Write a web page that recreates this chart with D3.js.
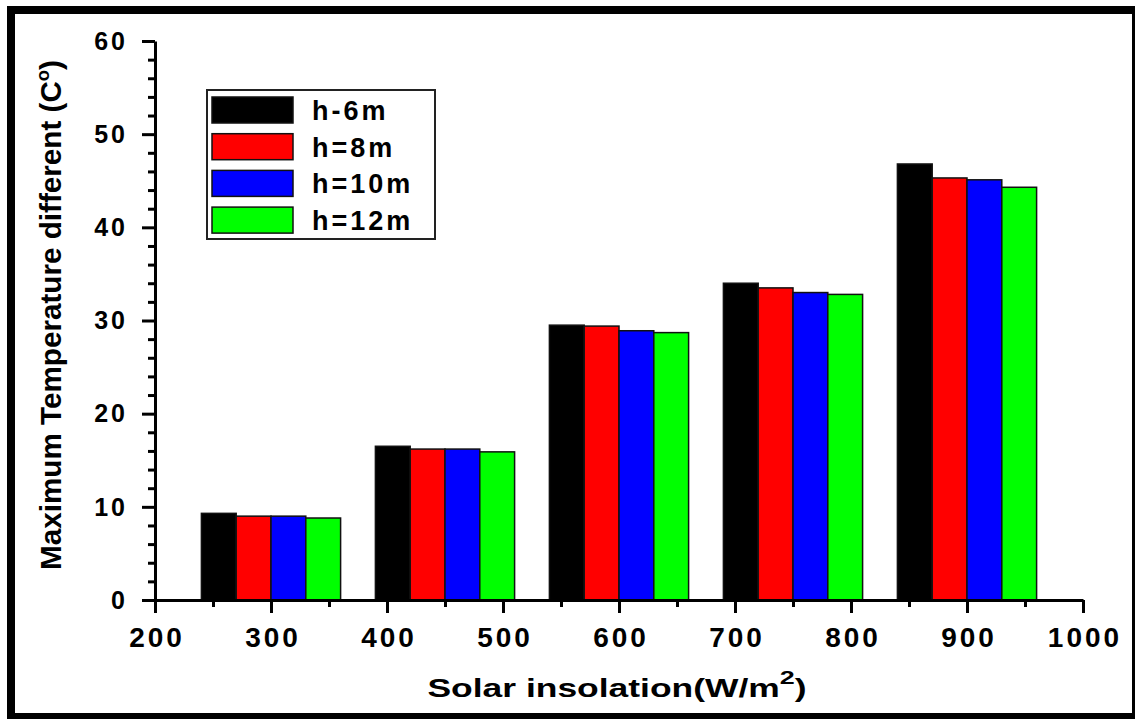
<!DOCTYPE html>
<html>
<head>
<meta charset="utf-8">
<script src="https://cdn.jsdelivr.net/npm/d3@7"></script>
<style>
  body { margin: 0; background: #fff; }
  svg text { font-family: "Liberation Sans", Arial, sans-serif; font-weight: bold; fill: #000; }
</style>
</head>
<body>
<div id="chart"></div>
<script>
// categories on the x axis (solar insolation, W/m2)
const categories = [300, 450, 600, 750, 900];
const seriesNames = ["h-6m", "h=8m", "h=10m", "h=12m"];
const seriesColors = ["#000000", "#ff0000", "#0000ff", "#00ff00"];

// maximum temperature difference per series
const h6 = [9.3, 16.5, 29.5, 34.0, 46.8];
const h8 = [9.0, 16.2, 29.4, 33.5, 45.3];
const h10 = [9.0, 16.2, 28.9, 33.0, 45.1];
const h12 = [8.8, 15.9, 28.7, 32.8, 44.3];

const xMajorTicks = [200, 300, 400, 500, 600, 700, 800, 900, 1000];
const xMinorTicks = [250, 350, 450, 550, 650, 750, 850, 950];
const yMajorTicks = [0, 10, 20, 30, 40, 50, 60];
const yMinorTicks = [2, 4, 6, 8, 12, 14, 16, 18, 22, 24, 26, 28, 32, 34, 36, 38, 42, 44, 46, 48, 52, 54, 56, 58];

const barWidthUnits = 30;
const seriesValues = [h6, h8, h10, h12];

const width = 1135, height = 719;
const margin = { top: 41, right: 52, bottom: 119, left: 155 };
const innerWidth = width - margin.left - margin.right;
const innerHeight = height - margin.top - margin.bottom;

const svgRoot = d3.select("#chart").append("svg")
  .attr("width", width)
  .attr("height", height);

// outer frame
svgRoot.append("rect")
  .attr("x", 11).attr("y", 10)
  .attr("width", 1125).attr("height", 707)
  .attr("fill", "none")
  .attr("stroke", "#000")
  .attr("stroke-width", 8);

const svg = svgRoot.append("g")
  .attr("transform", `translate(${margin.left},${margin.top})`);

const xScale = d3.scaleLinear().domain([200, 1000]).range([0, innerWidth]);
const yScale = d3.scaleLinear().domain([0, 60]).range([innerHeight, 0]);

// bars
const offsets = [-45, -15, 15, 45];
seriesValues.forEach((vals, si) => {
  svg.selectAll(".bar-" + si)
    .data(categories.map((c, i) => ({ c, v: vals[i] })))
    .enter()
    .append("rect")
    .attr("x", d => xScale(d.c + offsets[si] - barWidthUnits / 2))
    .attr("width", xScale(200 + barWidthUnits) - xScale(200))
    .attr("y", d => yScale(d.v))
    .attr("height", d => yScale(0) - yScale(d.v))
    .attr("fill", seriesColors[si])
    .attr("stroke", "#111")
    .attr("stroke-width", 1.5);
});

// minor ticks
svg.append("g")
  .attr("transform", `translate(0,${innerHeight})`)
  .call(d3.axisBottom(xScale).tickValues(xMinorTicks).tickSize(7).tickSizeOuter(0).tickFormat(""))
  .call(g => g.select(".domain").remove());
svg.append("g")
  .call(d3.axisLeft(yScale).tickValues(yMinorTicks).tickSize(7).tickSizeOuter(0).tickFormat(""))
  .call(g => g.select(".domain").remove());

// major axes
const xAxis = svg.append("g")
  .attr("transform", `translate(0,${innerHeight})`)
  .call(d3.axisBottom(xScale).tickValues(xMajorTicks).tickSize(13).tickSizeOuter(0).tickFormat(d3.format("d")));
xAxis.selectAll("text")
  .attr("x", 1.5).attr("y", 47).attr("dy", 0)
  .style("font-size", "28px")
  .style("letter-spacing", "3px");

const yAxis = svg.append("g")
  .call(d3.axisLeft(yScale).tickValues(yMajorTicks).tickSize(13).tickSizeOuter(0));
yAxis.selectAll("text")
  .attr("x", -27).attr("dy", "0.33em")
  .style("font-size", "25px")
  .style("letter-spacing", "3px");

svg.selectAll(".domain, .tick line")
  .attr("stroke", "#000")
  .attr("stroke-width", 3);

// axis titles
const xTitle = svgRoot.append("text")
  .attr("x", 617).attr("y", 697)
  .attr("text-anchor", "middle")
  .attr("textLength", 379)
  .attr("lengthAdjust", "spacingAndGlyphs")
  .style("font-size", "25px");
xTitle.append("tspan").text("Solar insolation(W/m");
xTitle.append("tspan").attr("dy", -13).style("font-size", "19px").text("2");
xTitle.append("tspan").attr("dy", 13).text(")");

const yTitle = svgRoot.append("text")
  .attr("transform", "translate(61,315) rotate(-90)")
  .attr("text-anchor", "middle")
  .attr("textLength", 510)
  .attr("lengthAdjust", "spacingAndGlyphs")
  .style("font-size", "29px");
yTitle.append("tspan").text("Maximum Temperature different (C");
yTitle.append("tspan").attr("dy", -12).style("font-size", "18px").text("o");
yTitle.append("tspan").attr("dy", 12).text(")");

// legend
const legend = svgRoot.append("g").attr("transform", "translate(207,90)");
legend.append("rect")
  .attr("width", 228).attr("height", 149)
  .attr("fill", "#fff")
  .attr("stroke", "#222")
  .attr("stroke-width", 2);
seriesNames.forEach((name, i) => {
  const row = legend.append("g").attr("transform", `translate(0,${7 + i * 36.7})`);
  row.append("rect")
    .attr("x", 5).attr("width", 81).attr("height", 26)
    .attr("fill", seriesColors[i])
    .attr("stroke", "#111")
    .attr("stroke-width", 1.5);
  row.append("text")
    .attr("x", 105).attr("y", 23)
    .style("font-size", "27px")
    .style("letter-spacing", "3px")
    .text(name);
});
</script>
</body>
</html>
